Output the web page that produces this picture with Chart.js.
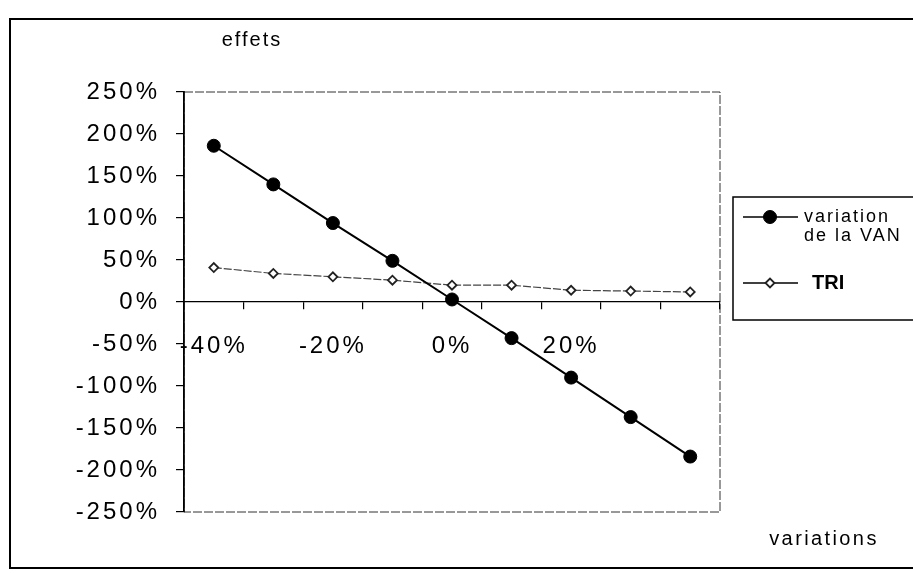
<!DOCTYPE html>
<html>
<head>
<meta charset="utf-8">
<script src="https://cdn.jsdelivr.net/npm/chart.js@4.4.1/dist/chart.umd.min.js"></script>
<style>
  html, body { margin: 0; padding: 0; background: #fff; overflow: hidden; }
</style>
</head>
<body>
<canvas id="chart" width="913" height="573"></canvas>
<script>
// --- DATA ---
const categories = ['-40%', '-30%', '-20%', '-10%', '0%', '10%', '20%', '30%', '40%'];
const shownLabels = ['-40%', '-20%', '0%', '20%'];   // labels Excel kept on the axis
const vanValues = [186, 140, 94, 49, 3, -43, -90, -137, -184];
const triValues = [41, 34, 30, 26, 20, 20, 14, 13, 12];
const yMin = -250, yMax = 250, yStep = 50;
const seriesNames = ['variation de la VAN', 'TRI'];
const legendLines = [['variation', 'de la VAN'], ['TRI']];
const yTitle = 'effets';
const xTitle = 'variations';

const FONT = '"Liberation Sans", Arial, sans-serif';

// frame, plot box, titles and legend drawn on the canvas
const framePlugin = {
    id: 'frame',
    beforeLayout(chart) { chart.ctx.letterSpacing = '3px'; },
    beforeDraw(chart) {
        const ctx = chart.ctx;
        ctx.letterSpacing = '3px';
        ctx.save();
        ctx.fillStyle = '#fff';
        ctx.fillRect(0, 0, chart.width, chart.height);
        ctx.strokeStyle = '#000';
        ctx.lineWidth = 2;
        ctx.strokeRect(10, 19, chart.width + 20, 549);
        const a = chart.chartArea;
        ctx.lineWidth = 1;
        ctx.strokeStyle = '#333';
        ctx.setLineDash([9, 2]);
        ctx.strokeRect(a.left, a.top, a.right - a.left, a.bottom - a.top);
        ctx.restore();
    },
    afterDraw(chart) {
        const ctx = chart.ctx;
        const a = chart.chartArea;
        ctx.save();
        ctx.fillStyle = '#000';
        ctx.textBaseline = 'middle';
        ctx.textAlign = 'center';
        ctx.font = '20px ' + FONT;
        ctx.letterSpacing = '2px';
        ctx.fillText(yTitle, a.left + 68, 40);
        ctx.letterSpacing = '2.4px';
        ctx.fillText(xTitle, a.right + 104, 539);

        // legend
        const bx = a.right + 13, by = 197;
        ctx.lineWidth = 1.5;
        ctx.strokeStyle = '#000';
        ctx.strokeRect(bx, by, 260, 123);
        const rows = [217, 283];
        chart.data.datasets.forEach((ds, i) => {
            const y = rows[i];
            ctx.beginPath();
            ctx.moveTo(bx + 10, y);
            ctx.lineTo(bx + 65, y);
            ctx.strokeStyle = '#000';
            ctx.lineWidth = 1.5;
            ctx.stroke();
            ctx.fillStyle = ds.pointBackgroundColor;
            ctx.strokeStyle = ds.pointBorderColor;
            ctx.lineWidth = ds.pointBorderWidth;
            Chart.helpers.drawPoint(ctx, {
                pointStyle: ds.pointStyle, rotation: 0,
                radius: ds.pointRadius, borderWidth: ds.pointBorderWidth
            }, bx + 37, y);
            ctx.fillStyle = '#000';
            ctx.textAlign = 'left';
            if (i === 0) {
                ctx.font = '18px ' + FONT;
                ctx.letterSpacing = '2px';
                legendLines[i].forEach((t, j) => ctx.fillText(t, bx + 71, y + j * 19));
            } else {
                ctx.font = 'bold 20px ' + FONT;
                ctx.letterSpacing = '0px';
                ctx.fillText(legendLines[i][0], bx + 79, y);
            }
        });
        ctx.restore();
    }
};

new Chart(document.getElementById('chart'), {
    type: 'line',
    data: {
        labels: categories,
        datasets: [{
            label: seriesNames[0],
            data: vanValues,
            borderColor: '#000',
            borderWidth: 2,
            pointStyle: 'circle',
            pointRadius: 6.5,
            pointBackgroundColor: '#000',
            pointBorderColor: '#000',
            pointBorderWidth: 1
        }, {
            label: seriesNames[1],
            data: triValues,
            borderColor: '#444',
            borderWidth: 1.2,
            borderDash: [8, 2],
            pointStyle: 'rectRot',
            pointRadius: 4.5,
            pointBackgroundColor: '#fff',
            pointBorderColor: '#222',
            pointBorderWidth: 1.8
        }]
    },
    options: {
        responsive: false,
        animation: false,
        devicePixelRatio: 1,
        layout: { padding: { left: 73, top: 92, right: 193, bottom: 61 } },
        plugins: { legend: { display: false }, tooltip: { enabled: false } },
        scales: {
            x: {
                type: 'category',
                position: { y: 0 },
                offset: true,
                grid: { drawOnChartArea: false, offset: true, tickLength: 7, color: '#000', lineWidth: 1.2 },
                border: { color: '#000', width: 1.2 },
                ticks: {
                    autoSkip: false, maxRotation: 0, padding: 23, color: '#000',
                    font: { family: FONT, size: 24 },
                    callback: (v, i) => (shownLabels.includes(categories[i]) ? categories[i] : '')
                }
            },
            y: {
                min: yMin, max: yMax,
                afterFit: s => { s.width = 111; },
                grid: { drawOnChartArea: false, tickLength: 8, color: '#000', lineWidth: 1.2 },
                border: { color: '#000', width: 1.8 },
                ticks: {
                    stepSize: yStep, padding: 16, color: '#000',
                    font: { family: FONT, size: 24 },
                    callback: v => v + '%'
                }
            }
        }
    },
    plugins: [framePlugin]
});
</script>
</body>
</html>
